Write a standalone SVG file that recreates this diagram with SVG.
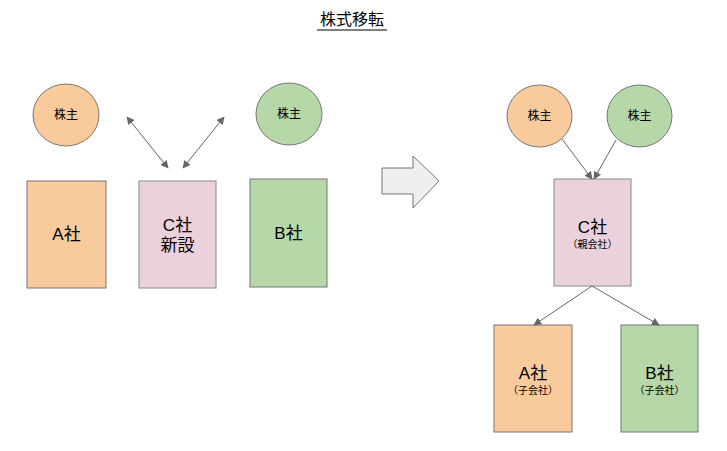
<svg xmlns="http://www.w3.org/2000/svg" width="727" height="451" viewBox="0 0 727 451">
<defs>
<style>
.o{fill:#f9cb9c;stroke:#777;stroke-width:1}
.g{fill:#b6d7a8;stroke:#777;stroke-width:1}
.p{fill:#ead1dc;stroke:#999;stroke-width:1.2}
.t{font-family:"Liberation Sans","Noto Sans CJK JP",sans-serif;fill:#000;text-anchor:middle}
.s12{font-size:12px}
.s17{font-size:17px}
.s10{font-size:10px}
.c{stroke:#666;stroke-width:1;fill:none}
</style>
<marker id="ah" viewBox="0 0 10 10" refX="9" refY="5" markerWidth="8" markerHeight="8" orient="auto-start-reverse" markerUnits="userSpaceOnUse">
<path d="M0,0 L10,5 L0,10 z" fill="#666"/>
</marker>
</defs>
<rect width="727" height="451" fill="#fff"/>
<g id="title">
<text class="t" x="352" y="25" font-size="16">株式移転</text>
<line x1="317" y1="30" x2="387" y2="30" stroke="#000" stroke-width="1"/>
</g>
<g id="left-shareholder-a"><ellipse class="o" cx="66" cy="115" rx="33" ry="31"/><text class="t s12" x="66" y="119">株主</text></g>
<g id="left-shareholder-b"><ellipse class="g" cx="289" cy="114" rx="33" ry="31"/><text class="t s12" x="289" y="118">株主</text></g>
<g id="left-a"><rect class="o" x="27" y="181" width="79" height="107"/><text class="t s17" x="66.5" y="240">A社</text></g>
<g id="left-c"><rect class="p" x="139" y="181" width="77" height="107"/><text class="t s17" x="177.5" y="231">C社</text><text class="t s17" x="177.5" y="251">新設</text></g>
<g id="left-b"><rect class="g" x="250" y="179" width="77" height="108"/><text class="t s17" x="288.5" y="239">B社</text></g>
<g id="block-arrow"><path d="M382,168 H413 V156 L439,181 L413,208 V194 H382 Z" fill="#efefef" stroke="#777" stroke-width="1"/></g>
<g id="right-shareholder-a"><ellipse class="o" cx="539.5" cy="116" rx="32.5" ry="31"/><text class="t s12" x="539.5" y="120">株主</text></g>
<g id="right-shareholder-b"><ellipse class="g" cx="639.5" cy="116" rx="32.5" ry="31"/><text class="t s12" x="639.5" y="120">株主</text></g>
<g id="right-c"><rect class="p" x="554" y="179" width="77" height="107"/><text class="t s17" x="592.5" y="233">C社</text><text class="t s10" x="592.5" y="248">（親会社）</text></g>
<g id="right-a"><rect class="o" x="494" y="325" width="78" height="107"/><text class="t s17" x="533" y="379">A社</text><text class="t s10" x="533" y="394">（子会社）</text></g>
<g id="right-b"><rect class="g" x="621" y="325" width="77" height="107"/><text class="t s17" x="659.5" y="379">B社</text><text class="t s10" x="659.5" y="394">（子会社）</text></g>
<g id="connectors">
<line class="c" x1="127" y1="117" x2="168" y2="168" marker-start="url(#ah)" marker-end="url(#ah)"/>
<line class="c" x1="224" y1="117" x2="183" y2="168" marker-start="url(#ah)" marker-end="url(#ah)"/>
<line class="c" x1="562" y1="139" x2="592" y2="179" marker-end="url(#ah)"/>
<line class="c" x1="616" y1="140" x2="594" y2="179" marker-end="url(#ah)"/>
<line class="c" x1="592" y1="286" x2="534" y2="325" marker-end="url(#ah)"/>
<line class="c" x1="592" y1="286" x2="659" y2="325" marker-end="url(#ah)"/>
</g>
</svg>
